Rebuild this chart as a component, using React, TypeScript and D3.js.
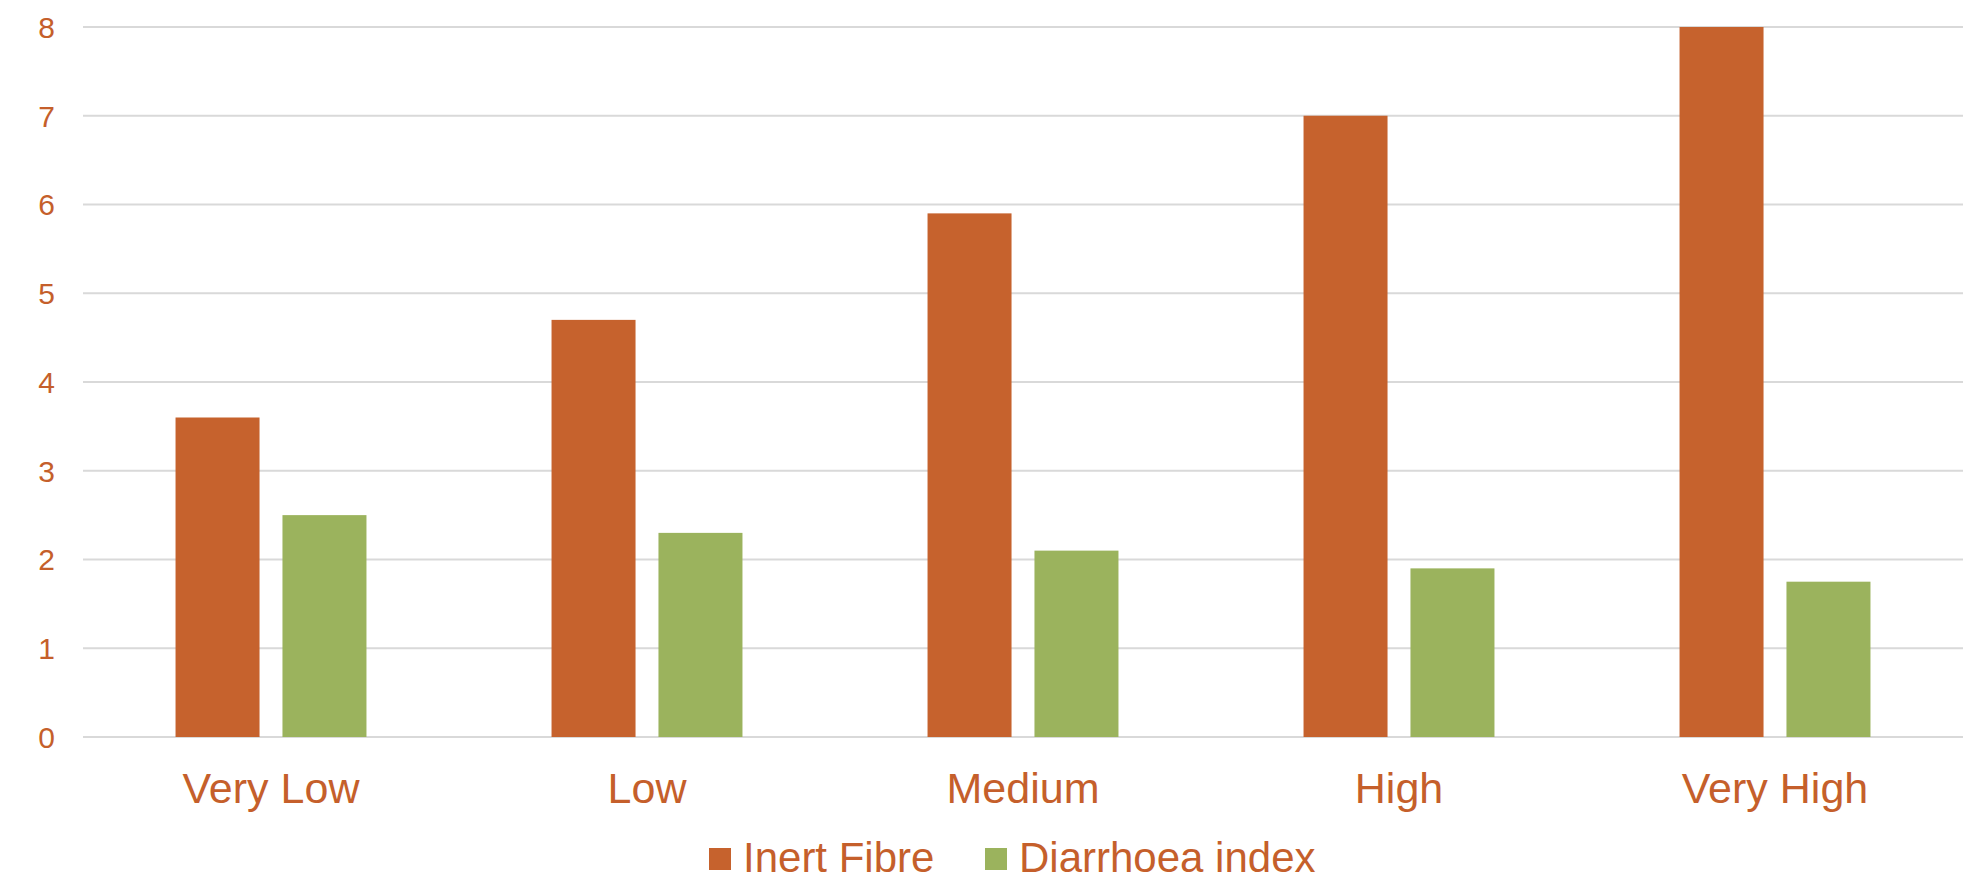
import React from "react";
import * as d3 from "d3";

const categories = ["Very Low", "Low", "Medium", "High", "Very High"];
const inertFibre = [3.6, 4.7, 5.9, 7.0, 8.0];
const diarrhoeaIndex = [2.5, 2.3, 2.1, 1.9, 1.75];
const yTicks = [0, 1, 2, 3, 4, 5, 6, 7, 8];
const seriesNames = ["Inert Fibre", "Diarrhoea index"];

const W = 1981;
const H = 877;
const ORANGE = "#C6622D";
const GREEN = "#9BB35D";
const TEXT = "#C55F2B";
const FONT = "'Liberation Sans', Arial, sans-serif";

export default function App() {
  const left = 83;
  const right = 1963;
  const top = 27;
  const bottom = 737;

  const x = d3.scaleBand<string>().domain(categories).range([left, right]).padding(0);
  const y = d3.scaleLinear().domain([0, 8]).range([bottom, top]);
  const bw = x.bandwidth();
  const barW = bw * 0.2234;
  const gap = bw * 0.061;

  const series = [
    { name: seriesNames[0], values: inertFibre, color: ORANGE },
    { name: seriesNames[1], values: diarrhoeaIndex, color: GREEN },
  ];

  return (
    <svg
      width={W}
      height={H}
      style={{ position: "absolute", left: 0, top: 0, background: "#fff" }}
    >
      <rect x={0} y={0} width={W} height={H} fill="#fff" />
      {yTicks.map((t) => (
        <g key={t}>
          <line x1={left} x2={right} y1={y(t)} y2={y(t)} stroke="#D9D9D9" strokeWidth={2} />
          <text
            x={55}
            y={y(t)}
            dy="0.36em"
            textAnchor="end"
            fontFamily={FONT}
            fontSize={30}
            fill={TEXT}
          >
            {t}
          </text>
        </g>
      ))}
      {categories.map((c, i) => {
        const cx = (x(c) as number) + bw / 2;
        return (
          <g key={c}>
            {series.map((s, j) => {
              const bx = j === 0 ? cx - gap / 2 - barW : cx + gap / 2;
              return (
                <rect
                  key={s.name}
                  x={bx}
                  y={y(s.values[i])}
                  width={barW}
                  height={y(0) - y(s.values[i])}
                  fill={s.color}
                />
              );
            })}
            <text
              x={cx}
              y={803}
              textAnchor="middle"
              fontFamily={FONT}
              fontSize={43}
              fill={TEXT}
            >
              {c}
            </text>
          </g>
        );
      })}
      {/* Legend */}
      {[
        { sq: 709, tx: 743 },
        { sq: 985, tx: 1019 },
      ].map((p, j) => (
        <g key={j}>
          <rect x={p.sq} y={848} width={22} height={22} fill={series[j].color} />
          <text x={p.tx} y={872} fontFamily={FONT} fontSize={42} fill={TEXT}>
            {series[j].name}
          </text>
        </g>
      ))}
    </svg>
  );
}
